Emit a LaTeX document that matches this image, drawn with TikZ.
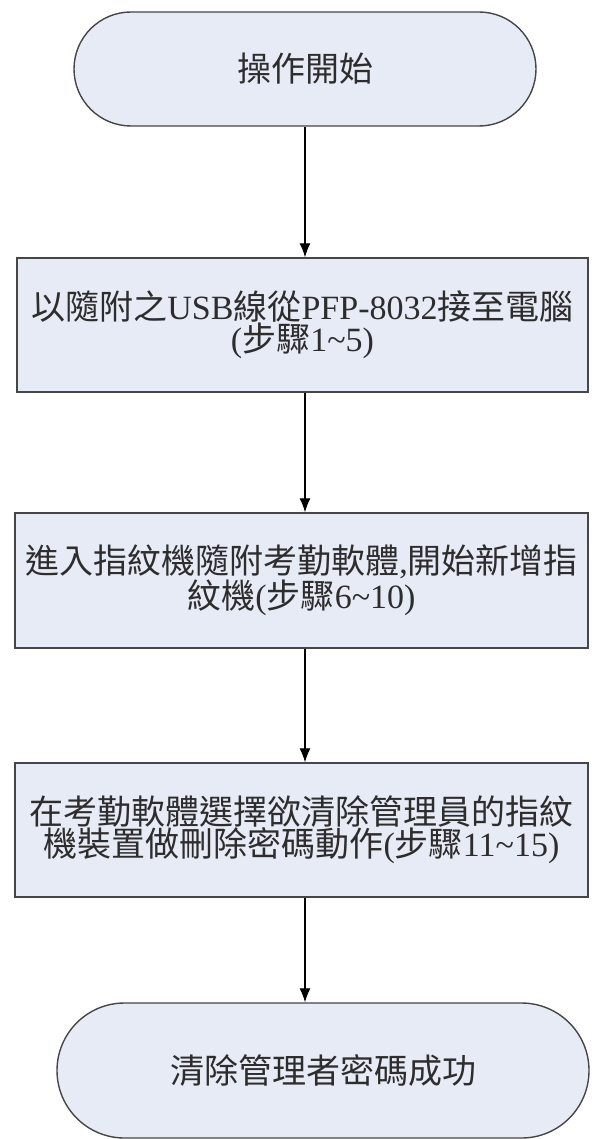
\documentclass[tikz,border=0pt]{standalone}
\usepackage{fontspec}
\setmainfont{Liberation Serif}
\newfontfamily\cjk{Noto Sans CJK TC}
\usetikzlibrary{arrows.meta,shapes.misc}
\definecolor{boxfill}{RGB}{230,235,246}
\definecolor{edge}{RGB}{70,70,70}
\definecolor{ink}{RGB}{45,45,45}
\begin{document}
\begin{tikzpicture}[x=1pt,y=-1pt,
  txt/.style={font=\fontsize{34}{32}\selectfont, text=ink, align=center},
  term/.style={rounded rectangle, draw=edge, line width=1.4pt, fill=boxfill, inner sep=0pt, txt},
  stepbox/.style={rectangle, draw=edge, line width=1.4pt, fill=boxfill, inner sep=0pt, txt},
  arr/.style={draw=black, line width=1.2pt, -{Latex[length=14pt,width=11pt]}}]
\useasboundingbox[fill=white] (0,0) rectangle (592,1139);

\node[term, minimum width=462pt, minimum height=114pt] (start) at (305,69) {{\cjk 操作開始}};

\node[stepbox, minimum width=571pt, minimum height=134pt] (s1) at (302.5,325)
  {{\cjk 以隨附之}USB{\cjk 線從}PFP-8032{\cjk 接至電腦}\\({\cjk 步驟}1\textasciitilde5)};

\node[stepbox, minimum width=573pt, minimum height=135pt] (s2) at (301.5,580.5)
  {{\cjk 進入指紋機隨附考勤軟體},{\cjk 開始新增指}\\{\cjk 紋機}({\cjk 步驟}6\textasciitilde10)};

\node[stepbox, minimum width=573pt, minimum height=134pt] (s3) at (301.5,830)
  {{\cjk 在考勤軟體選擇欲清除管理員的指紋}\\{\cjk 機裝置做刪除密碼動作}({\cjk 步驟}11\textasciitilde15)};

\node[term, minimum width=532pt, minimum height=135pt] (end) at (323,1070.5) {{\cjk 清除管理者密碼成功}};

\draw[arr] (start.south) -- (s1.north -| start.south);
\draw[arr] (s1.south -| start.south) -- (s2.north -| start.south);
\draw[arr] (s2.south -| start.south) -- (s3.north -| start.south);
\draw[arr] (s3.south -| start.south) -- (end.north -| start.south);
\end{tikzpicture}
\end{document}
